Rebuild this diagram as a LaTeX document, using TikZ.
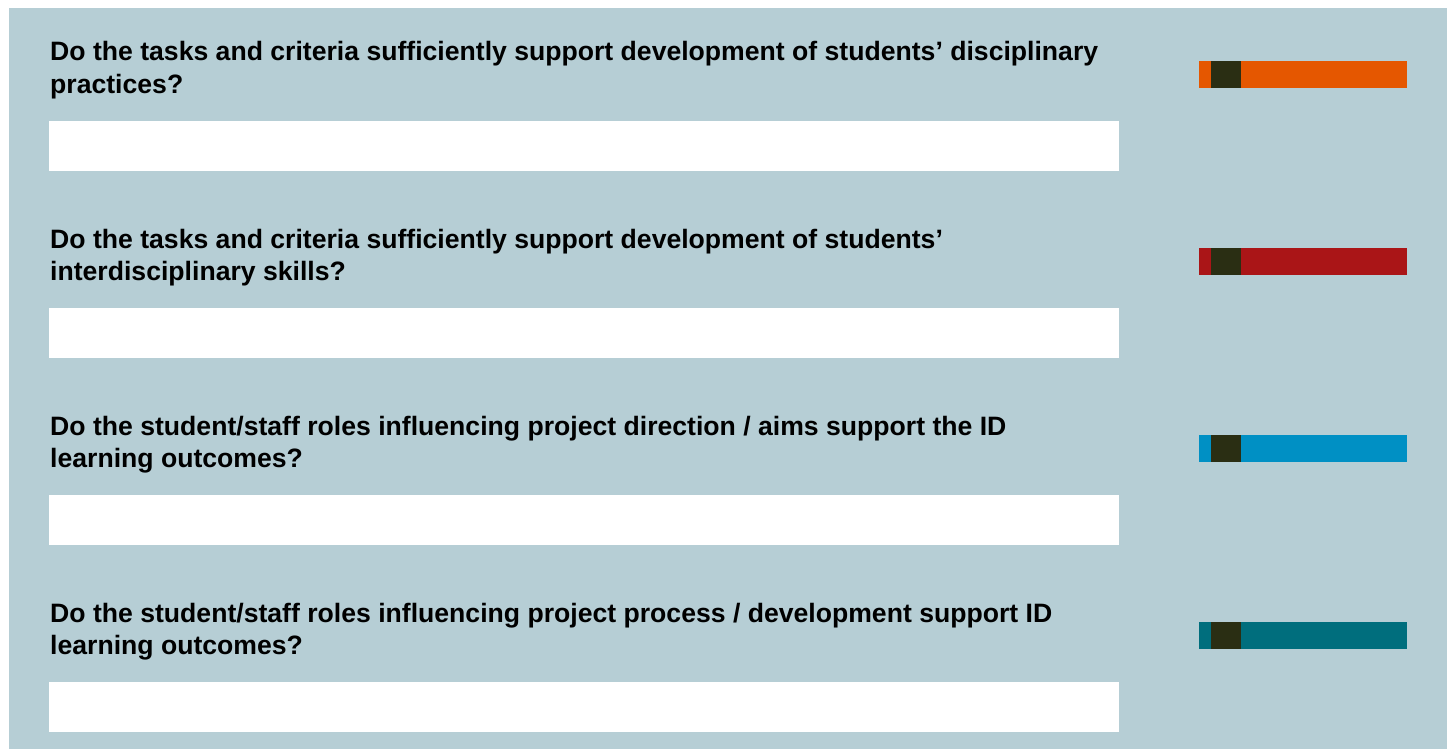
\documentclass[tikz,border=0pt]{standalone}
\usepackage{fontspec}
\setmainfont{Liberation Sans}
\definecolor{panel}{HTML}{B6CED5}
\definecolor{cOrange}{HTML}{E55700}
\definecolor{cRed}{HTML}{AA1517}
\definecolor{cBlue}{HTML}{0090C4}
\definecolor{cTeal}{HTML}{006E7D}
\definecolor{cDark}{HTML}{2A2E13}
\begin{document}
\begin{tikzpicture}[x=1pt,y=-1pt,
  question/.style={anchor=base west,inner sep=0pt,font=\bfseries\fontsize{26.6}{32.3}\selectfont},
  answerbox/.style={fill=white,draw=none,inner sep=0pt,anchor=north west,minimum width=1070pt,minimum height=50pt},
  barbase/.style={draw=none,inner sep=0pt,anchor=north west,minimum width=208pt,minimum height=27pt},
  barmark/.style={fill=cDark,draw=none,inner sep=0pt,anchor=north west,minimum width=30pt,minimum height=27pt}]
\useasboundingbox (0,0) rectangle (1454,749);
\fill[white] (0,0) rectangle (1454,749);
\fill[panel] (9,8) rectangle (1447,749);
\foreach \i/\col/\qa/\qb in {
  0/cOrange/{Do the tasks and criteria sufficiently support development of students’ disciplinary}/{practices?},
  1/cRed/{Do the tasks and criteria sufficiently support development of students’}/{interdisciplinary skills?},
  2/cBlue/{Do the student/staff roles influencing project direction / aims support the ID}/{learning outcomes?},
  3/cTeal/{Do the student/staff roles influencing project process / development support ID}/{learning outcomes?}}{
  \pgfmathsetmacro{\dy}{187*\i}
  \node[question] (q\i) at (50,61+\dy) {\parbox[t]{1120pt}{\raggedright \qa\\ \qb}};
  \node[answerbox] (a\i) at (49,121+\dy) {};
  \node[barbase,fill=\col] (b\i) at (1199,61+\dy) {};
  \node[barmark] (m\i) at (1211,61+\dy) {};
}
\end{tikzpicture}
\end{document}
